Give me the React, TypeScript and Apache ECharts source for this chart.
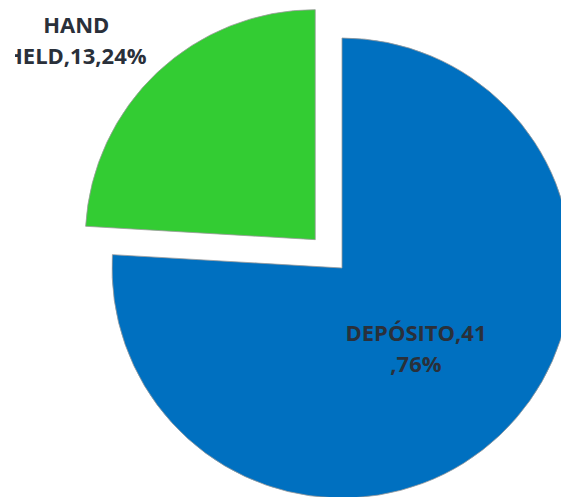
import React, { useEffect, useRef } from "react";
import * as echarts from "echarts";

const categories = ["DEPÓSITO", "HANDHELD"];
const values = [41, 13];
const colors = ["#0070C0", "#33CC33"];
const explodedIndex = 1;
// character index at which each label wraps onto its second line
const labelWrapAt = [11, 4];
const labelOffsets = [
  [-7, -6],
  [-158, -114],
];

export default function App() {
  const ref = useRef<HTMLDivElement>(null);
  useEffect(() => {
    if (!ref.current) return;
    const chart = echarts.init(ref.current, undefined, { renderer: "svg" });
    const total = values.reduce((a, b) => a + b, 0);
    chart.setOption({
      animation: false,
      backgroundColor: "#ffffff",
      graphic: [
        {
          type: "rect",
          left: 0,
          top: 0,
          z: 100,
          zlevel: 1,
          shape: { x: 0, y: 0, width: 15, height: 497 },
          style: { fill: "#ffffff" },
        },
      ],
      series: [
        {
          type: "pie",
          center: [342, 268],
          radius: [0, 230],
          startAngle: 90,
          clockwise: true,
          selectedMode: "single",
          selectedOffset: 39,
          avoidLabelOverlap: false,
          labelLine: { show: false },
          emphasis: { disabled: true },
          itemStyle: { borderColor: "#9a9a9a", borderWidth: 0.8 },
          label: {
            show: true,
            position: "inside",
            color: "#2a303a",
            fontFamily: "Open Sans",
            fontWeight: "bold",
            fontSize: 22,
            lineHeight: 31,
            align: "center",
            formatter: (p: any) => {
              const pct = Math.round((values[p.dataIndex] / total) * 100);
              const s = `${categories[p.dataIndex]},${values[p.dataIndex]},${pct}%`;
              const k = labelWrapAt[p.dataIndex];
              return s.slice(0, k) + "\n" + s.slice(k);
            },
          },
          data: categories.map((c, i) => ({
            name: c,
            value: values[i],
            selected: i === explodedIndex,
            itemStyle: { color: colors[i] },
            label: { offset: labelOffsets[i] },
            select: { label: { offset: labelOffsets[i] } },
          })),
        },
      ],
    });
    return () => chart.dispose();
  }, []);
  return (
    <div
      ref={ref}
      style={{ position: "fixed", left: 0, top: 0, width: 561, height: 497 }}
    />
  );
}
